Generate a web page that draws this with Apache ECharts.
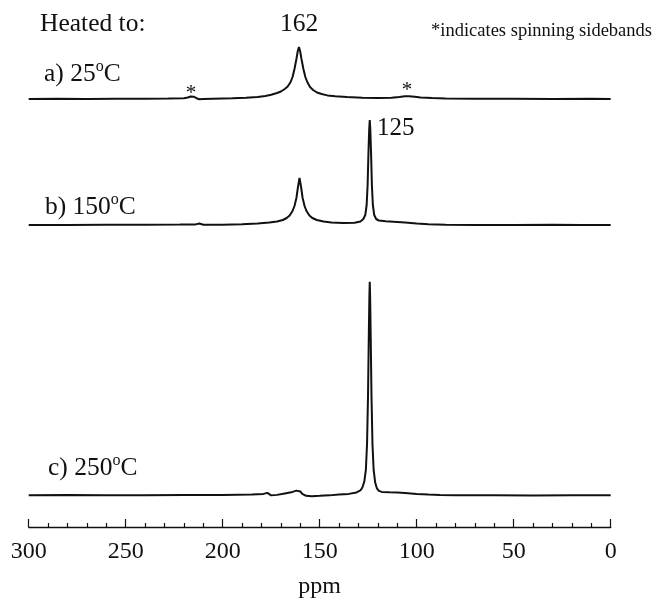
<!DOCTYPE html>
<html>
<head>
<meta charset="utf-8">
<script src="https://cdn.jsdelivr.net/npm/echarts@6/dist/echarts.min.js"></script>
<style>
  html, body { margin: 0; padding: 0; background: #fff; }
  #chart { width: 654px; height: 600px; }
</style>
</head>
<body>
<div id="chart"></div>
<script>
// spectrum a) 25 C  (ppm, intensity)
const ppmA = [300, 285, 270, 255, 240, 228, 220, 218, 216.5, 215, 213.5, 212, 210, 205, 195, 188, 182, 178, 175, 172, 170, 168, 166.5, 165, 164, 163, 162, 161.3, 160.7, 160.1, 159.4, 158.4, 157.4, 156.4, 155, 153.4, 151.4, 149, 146, 142, 136, 128, 120, 113, 109, 106, 104, 101, 98, 92, 85, 70, 50, 30, 10, 0];
const intA = [0, 0.3, 0, 0.3, 0.2, 0.5, 0.8, 1.5, 2.5, 2.3, 0.8, -0.3, 0, 0.3, 0.8, 1.3, 2, 3, 4.3, 6, 7.5, 10, 12.5, 17, 22, 30, 40, 48, 52, 48, 40, 30, 22, 17, 12, 9, 6.5, 5, 3.6, 2.7, 1.9, 1.3, 1, 1.3, 2, 2.7, 2.8, 2.2, 1.5, 1, 0.6, 0.3, 0.2, 0, 0.2, 0];

// spectrum b) 150 C
const ppmB = [300, 280, 260, 240, 222, 214, 212, 210, 200, 190, 182, 176, 172, 169, 167, 165.5, 164, 163, 162, 161.2, 160.4, 159.6, 158.8, 157.8, 156.8, 155.3, 153.8, 151.5, 148, 144, 138, 132, 129, 127.5, 126.5, 125.8, 125.3, 124.9, 124.5, 124.2, 123.9, 123.5, 123.1, 122.6, 121.9, 120.9, 119.5, 116, 112, 106, 100, 94, 85, 70, 50, 30, 15, 0];
const intB = [0, 0, 0.3, 0.2, 0.4, 0.6, 1.5, 0.3, 0.3, 0.8, 1.5, 2.5, 3.5, 5, 7, 9.5, 14, 19, 27, 38, 47, 38, 27, 19, 14, 9.5, 7, 5, 3.5, 2.5, 2, 2.2, 3.5, 6, 10, 20, 40, 70, 95, 105, 95, 70, 40, 20, 10, 6, 4.5, 3.8, 3.3, 2.5, 1.5, 0.8, 0.2, 0, 0, 0.3, 0, 0];

// spectrum c) 250 C
const ppmC = [300, 280, 260, 240, 220, 200, 185, 179, 177, 176, 175, 172, 168, 164, 162, 161, 160, 159, 157, 154, 150, 145, 140, 135, 131, 129, 128, 127, 126.2, 125.6, 125.1, 124.7, 124.4, 124.2, 124, 123.7, 123.3, 122.8, 122.2, 121.4, 120.5, 119.5, 118, 114, 110, 106, 100, 94, 88, 80, 60, 40, 20, 0];
const intC = [0, 0.3, 0, 0.2, 0.5, 0.5, 1, 1.5, 2.5, 1.5, 0, 0.5, 2, 3.5, 4.8, 5.2, 4, 1.5, -0.5, -0.8, -0.5, 0, 0.8, 1.5, 3, 5, 8, 14, 26, 52, 100, 160, 200, 216, 200, 160, 100, 52, 26, 13, 7, 4.5, 3.5, 3.2, 3, 2.5, 1.5, 0.8, 0.3, 0, 0, -0.2, 0, 0];

function pairs(xs, ys) {
  return xs.map(function (x, i) { return [x, ys[i]]; });
}

const serif = 'Liberation Serif';
const ink = '#111';

const chart = echarts.init(document.getElementById('chart'));

function hiddenX(idx) {
  return { gridIndex: idx, type: 'value', min: 0, max: 300, inverse: true, show: false };
}

// label like "a) 25°C" with a raised small o
function tempLabel(x, y, pre, post) {
  return {
    type: 'text', x: x, y: y,
    style: {
      text: '{t|' + pre + '}{s|o}{t|' + post + '}',
      align: 'left', verticalAlign: 'middle', fill: ink,
      rich: {
        t: { fontFamily: serif, fontSize: 25.5, lineHeight: 31, fill: ink },
        s: { fontFamily: serif, fontSize: 16, lineHeight: 16, verticalAlign: 'top', fill: ink }
      }
    }
  };
}

function txt(x, y, s, size, align) {
  return {
    type: 'text', x: x, y: y,
    style: { text: s, fontFamily: serif, fontSize: size, fill: ink, align: align || 'left', verticalAlign: 'middle' }
  };
}

chart.setOption({
  animation: false,
  backgroundColor: '#fff',
  grid: [
    { left: 28.7, right: 43.3, top: 40, height: 64 },
    { left: 28.7, right: 43.3, top: 110, height: 120 },
    { left: 28.7, right: 43.3, top: 272, height: 258 }
  ],
  xAxis: [
    hiddenX(0),
    hiddenX(1),
    {
      gridIndex: 2, type: 'value', min: 0, max: 300, interval: 50, inverse: true,
      axisLine: { show: true, onZero: false, lineStyle: { color: ink, width: 1.3 } },
      axisTick: { show: true, inside: true, length: 8, lineStyle: { color: ink, width: 1.2 } },
      minorTick: { show: true, splitNumber: 5, length: 4, lineStyle: { color: ink, width: 1.2 } },
      splitLine: { show: false },
      axisLabel: { color: ink, fontFamily: serif, fontSize: 24, margin: 13 },
      name: 'ppm', nameLocation: 'middle', nameGap: 48,
      nameTextStyle: { color: ink, fontFamily: serif, fontSize: 24 }
    }
  ],
  yAxis: [
    { gridIndex: 0, type: 'value', min: -5, max: 59, show: false },
    { gridIndex: 1, type: 'value', min: -5, max: 115, show: false },
    { gridIndex: 2, type: 'value', min: -32, max: 226, show: false }
  ],
  series: [
    { type: 'line', xAxisIndex: 0, yAxisIndex: 0, data: pairs(ppmA, intA), showSymbol: false, lineStyle: { color: ink, width: 2 } },
    { type: 'line', xAxisIndex: 1, yAxisIndex: 1, data: pairs(ppmB, intB), showSymbol: false, lineStyle: { color: ink, width: 2 } },
    { type: 'line', xAxisIndex: 2, yAxisIndex: 2, data: pairs(ppmC, intC), showSymbol: false, lineStyle: { color: ink, width: 2 } }
  ],
  graphic: [
    txt(40, 24, 'Heated to:', 25.5),
    txt(299, 24, '162', 25.5, 'center'),
    txt(652, 31, '*indicates spinning sidebands', 18.5, 'right'),
    tempLabel(44, 74, 'a) 25', 'C'),
    txt(191, 93, '*', 21, 'center'),
    txt(407, 90, '*', 21, 'center'),
    txt(377, 128, '125', 25),
    tempLabel(45, 207, 'b) 150', 'C'),
    tempLabel(48, 468, 'c) 250', 'C')
  ]
});
</script>
</body>
</html>
